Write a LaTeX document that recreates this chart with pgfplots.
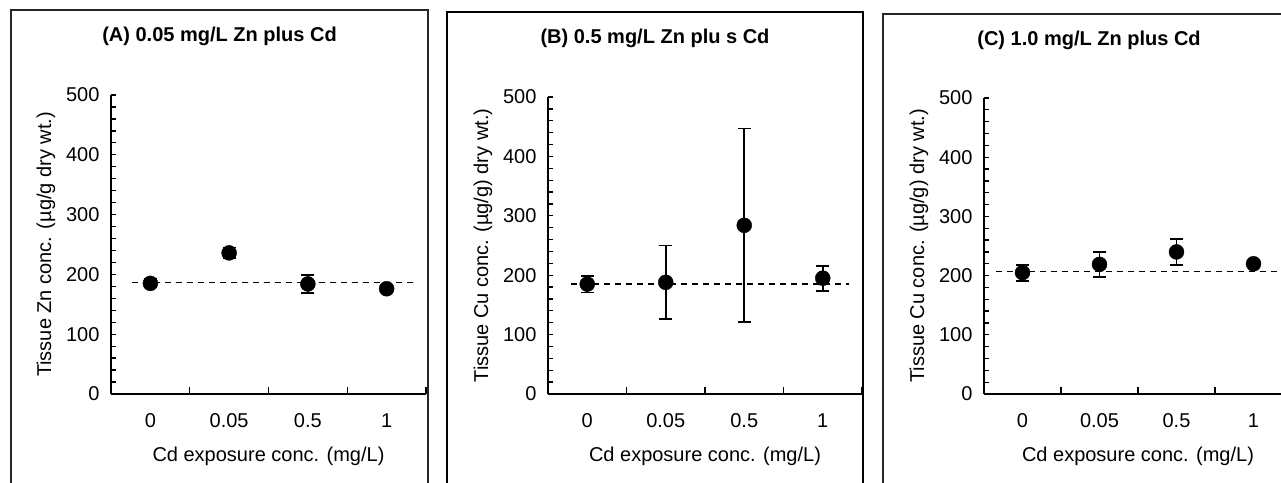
\documentclass[border=0pt]{standalone}
\usepackage{fontspec}
\setmainfont{Liberation Sans}
\usepackage{pgfplots}
\pgfplotsset{compat=1.18}
\usepackage{pgfplotstable}

\pgfplotstableread{
x y e
0 185 7
1 236 9
2 184 15
3 176 6
}\dataA
\pgfplotstableread{
x y e
0 185 14
1 188 62
2 284 163
3 195 21
}\dataB
\pgfplotstableread{
x y e
0 205 13.5
1 219 21
2 240 22
3 220 3
}\dataC

\newcommand{\fs}{\fontsize{20}{24}\selectfont}
\pgfplotsset{
  panel/.style={
    scale only axis, anchor=south west, clip=false,
    axis x line*=bottom, axis y line*=left,
    axis line style={line width=1.4pt, black},
    xmin=-0.5, xmax=3.5, ymin=0, ymax=500,
    tick align=inside,
    xtick={0,1,2,3}, xticklabels={0,0.05,0.5,1},
    major x tick style={draw=none},
    minor xtick={0.5,1.5,2.5,3.5},
    minor tick length=7pt, major tick length=5pt,
    every tick/.style={line width=1.3pt, black},
    ytick={0,20,...,500},
    yticklabels={0,,,,,100,,,,,200,,,,,300,,,,,400,,,,,500},
    tick label style={font=\fs},
    label style={font=\fs},
    yticklabel style={xshift=-8pt},
    xticklabel style={yshift=-16pt},
    xlabel={Cd exposure conc. (mg/L)},
    xlabel style={yshift=-12pt},
    ylabel style={yshift=4pt},
  },
  pts/.style={only marks, mark=*, mark size=7.5pt, black,
    error bars/.cd, y dir=both, y explicit, error mark=|,
    error bar style={line width=1.8pt, black},
    error mark options={line width=1.8pt, mark size=6.5pt, black}},
  dl/.style={black, line width=1.3pt, dash pattern=on 6pt off 5pt},
}

\begin{document}
\begin{tikzpicture}
\useasboundingbox (0,0) rectangle (1281pt,482pt);
% panel boxes
\draw[line width=1.3pt, black!85] (11pt,-5pt) -- (11pt,472pt) -- (428pt,472pt) -- (428pt,-5pt);
\draw[line width=1.3pt, black] (447pt,-5pt) -- (447pt,470pt) -- (863pt,470pt) -- (863pt,-5pt);
\draw[line width=1.3pt, black!85] (883pt,-5pt) -- (883pt,468pt) -- (1300pt,468pt);
% titles
\node[font=\fs\bfseries] at (219.5pt,446pt) {(A) 0.05 mg/L Zn plus Cd};
\node[font=\fs\bfseries] at (655pt,444pt) {(B) 0.5 mg/L Zn plu s Cd};
\node[font=\fs\bfseries] at (1089pt,442pt) {(C) 1.0 mg/L Zn plus Cd};

\begin{axis}[panel, at={(111pt,88pt)}, width=315pt, height=299pt,
  ylabel={Tissue Zn conc. (µg/g dry wt.)}]
\addplot[dl] coordinates {(-0.23,187) (3.4,187)};
\addplot[pts] table[x=x, y=y, y error=e] {\dataA};
\end{axis}

\begin{axis}[panel, at={(548pt,88pt)}, width=314pt, height=297pt,
  ylabel={Tissue Cu conc. (µg/g) dry wt.)}]
\addplot[dl] coordinates {(-0.21,185) (3.34,185)};
\addplot[pts] table[x=x, y=y, y error=e] {\dataB};
\end{axis}

\begin{axis}[panel, at={(984pt,88pt)}, width=308pt, height=296pt,
  ylabel={Tissue Cu conc. (µg/g) dry wt.)}]
\addplot[dl] coordinates {(-0.35,206.5) (3.6,206.5)};
\addplot[pts] table[x=x, y=y, y error=e] {\dataC};
\end{axis}
\end{tikzpicture}
\end{document}
